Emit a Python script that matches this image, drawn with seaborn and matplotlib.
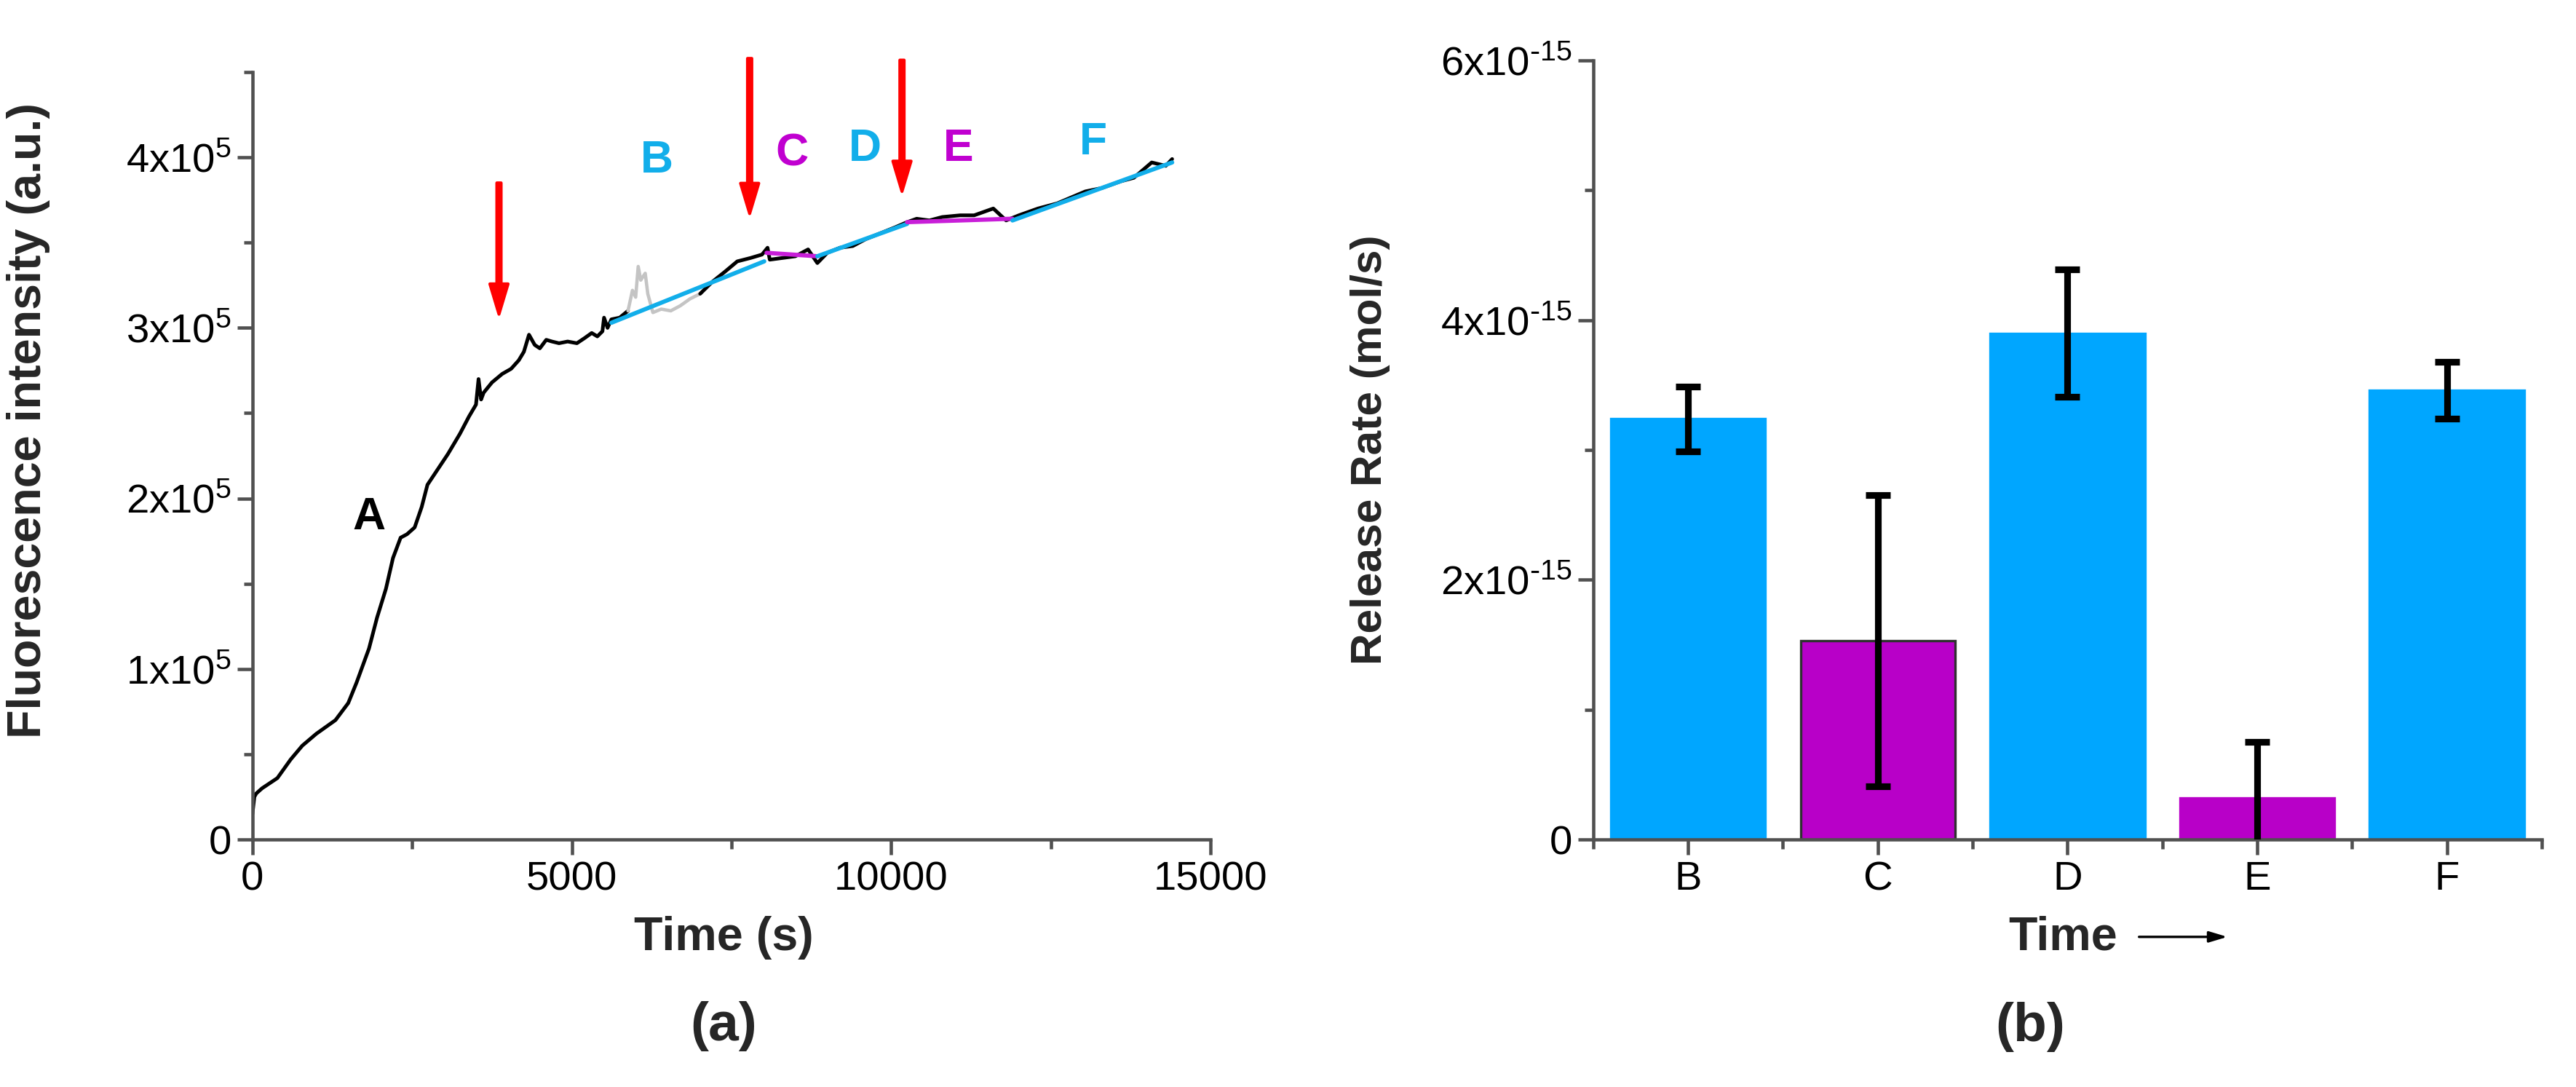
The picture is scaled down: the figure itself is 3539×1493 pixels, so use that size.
import numpy as np
import seaborn as sns
import matplotlib.pyplot as plt

# ---- panel (a): fluorescence trace ----
t_a1 = [0, 30, 60, 150, 390, 600, 780, 1000, 1300, 1500, 1630, 1825, 1950, 2090, 2200,
        2320, 2420, 2540, 2650, 2740, 2900, 3060, 3250, 3390, 3500, 3540, 3580, 3620,
        3750, 3910, 4050, 4170, 4250, 4330, 4420, 4500, 4600, 4690, 4800, 4935, 5080,
        5200, 5312, 5400, 5480, 5505, 5560, 5620, 5750, 5880]
y_a1 = [0.15, 0.25, 0.27, 0.30, 0.36, 0.47, 0.55, 0.62, 0.70, 0.80, 0.92, 1.12, 1.30, 1.47,
        1.65, 1.77, 1.79, 1.83, 1.95, 2.08, 2.17, 2.26, 2.38, 2.48, 2.55, 2.70, 2.58, 2.62,
        2.68, 2.73, 2.76, 2.81, 2.86, 2.96, 2.90, 2.88, 2.93, 2.92, 2.91, 2.92, 2.91, 2.94,
        2.97, 2.95, 2.98, 3.06, 3.00, 3.05, 3.06, 3.10]
t_gray = [5880, 5950, 6000, 6040, 6080, 6150, 6190, 6270, 6400, 6550, 6700, 6850, 7010]
y_gray = [3.10, 3.22, 3.18, 3.36, 3.28, 3.32, 3.20, 3.09, 3.11, 3.10, 3.13, 3.17, 3.20]
t_a2 = [7010, 7200, 7400, 7591, 7800, 7979, 8065, 8100, 8300, 8500, 8700, 8845, 9000,
        9200, 9400, 9600, 9800, 10065, 10250, 10400, 10600, 10800, 11080, 11300, 11600,
        11800, 12000, 12300, 12600, 13040, 13300, 13600, 13800, 14080, 14300, 14400]
y_a2 = [3.20, 3.27, 3.33, 3.39, 3.41, 3.43, 3.47, 3.40, 3.41, 3.42, 3.46, 3.38, 3.44,
        3.47, 3.48, 3.52, 3.55, 3.59, 3.62, 3.64, 3.63, 3.65, 3.66, 3.66, 3.70, 3.63,
        3.66, 3.70, 3.73, 3.80, 3.82, 3.86, 3.88, 3.97, 3.95, 3.99]

# linear fits B..F (start/end)
fit_names = ['B', 'C', 'D', 'E', 'F']
fit_t = [[5620, 8013], [8050, 8845], [8845, 10250], [10250, 11900], [11900, 14400]]
fit_y = [[3.03, 3.39], [3.44, 3.42], [3.42, 3.61], [3.62, 3.64], [3.63, 3.97]]

# red arrows (time, top, tip) and segment letters
arrow_t = [3860, 7785, 10170]
arrow_top = [3.85, 4.58, 4.57]
arrow_tip = [3.08, 3.67, 3.80]
letter_txt = ['A', 'B', 'C', 'D', 'E', 'F']
letter_t = [1830, 6330, 8450, 9590, 11050, 13170]
letter_y = [1.89, 3.98, 4.02, 4.05, 4.05, 4.09]

# ---- panel (b): release rates ----
categories = ['B', 'C', 'D', 'E', 'F']
rate = [3.24, 1.53, 3.90, 0.32, 3.46]   # x1e-15 mol/s
rate_err = [0.25, 1.12, 0.49, 0.43, 0.22]

BLUE = '#00A6FF'
MAG = '#B800C8'
FIT_BLUE = '#12AEEA'
FIT_MAG = '#C81ED8'
colors = {'B': FIT_BLUE, 'C': FIT_MAG, 'D': FIT_BLUE, 'E': FIT_MAG, 'F': FIT_BLUE}
letter_col = {'A': 'black', 'B': '#12AEEA', 'C': '#C000D0', 'D': '#12AEEA',
              'E': '#C000D0', 'F': '#12AEEA'}
bar_col = {'B': BLUE, 'C': MAG, 'D': BLUE, 'E': MAG, 'F': BLUE}

sns.set_style('ticks')
plt.rcParams['font.family'] = ['Liberation Sans', 'DejaVu Sans']
plt.rcParams['mathtext.default'] = 'regular'
plt.rcParams['axes.edgecolor'] = '#505050'
plt.rcParams['axes.linewidth'] = 1.1
for k in ['xtick', 'ytick']:
    plt.rcParams[k + '.color'] = '#505050'
    plt.rcParams[k + '.labelcolor'] = 'black'
    plt.rcParams[k + '.major.width'] = 1.1
    plt.rcParams[k + '.minor.width'] = 1.1
    plt.rcParams[k + '.major.size'] = 5
    plt.rcParams[k + '.minor.size'] = 3
    plt.rcParams[k + '.direction'] = 'out'
    plt.rcParams[k + '.labelsize'] = 13.5

fig = plt.figure(figsize=(3539 / 300, 1493 / 300), dpi=300)
ax1 = fig.add_axes([0.0980, 0.2277, 0.3719, 0.7060])
ax2 = fig.add_axes([0.6185, 0.2277, 0.3682, 0.7167])

### Wykres (a) ---------------------------------------------------------
sc = 1e5
sns.lineplot(x=t_a1, y=np.array(y_a1) * sc, color='black', lw=1.2, ax=ax1, estimator=None)
sns.lineplot(x=t_gray, y=np.array(y_gray) * sc, color='#C4C4C4', lw=1.1, ax=ax1, estimator=None)
sns.lineplot(x=t_a2, y=np.array(y_a2) * sc, color='black', lw=1.2, ax=ax1, estimator=None)
for name, ft, fy in zip(fit_names, fit_t, fit_y):
    sns.lineplot(x=ft, y=np.array(fy) * sc, color=colors[name], lw=1.4, ax=ax1, estimator=None)

for t, top, tip in zip(arrow_t, arrow_top, arrow_tip):
    ax1.annotate('', xy=(t, tip * sc), xytext=(t, top * sc), annotation_clip=False,
                 arrowprops=dict(facecolor='red', edgecolor='red', width=1.4,
                                 headwidth=6, headlength=10, shrink=0))

for s, t, y in zip(letter_txt, letter_t, letter_y):
    ax1.text(t, y * sc, s, color=letter_col[s], fontsize=15, fontweight='bold',
             ha='center', va='center')

ax1.set_xlim(0, 15000)
ax1.set_ylim(0, 4.5e5)
ax1.set_xticks([0, 5000, 10000, 15000])
ax1.set_xticks(np.arange(0, 15001, 2500), minor=True)
ax1.set_yticks([0, 1e5, 2e5, 3e5, 4e5])
ax1.set_yticklabels(['0', '1x10$^5$', '2x10$^5$', '3x10$^5$', '4x10$^5$'])
ax1.set_yticks(np.arange(0, 4.51e5, 0.5e5), minor=True)
ax1.tick_params(pad=2)
ax1.set_xlabel('Time (s)', fontsize=15.5, fontweight='bold')
ax1.set_ylabel('Fluorescence intensity (a.u.)', fontsize=15.5, fontweight='bold')
ax1.xaxis.set_label_coords(0.492, -0.10)
ax1.yaxis.set_label_coords(-0.211, 0.546)
sns.despine(ax=ax1)

### Wykres (b) ---------------------------------------------------------
vals = np.array(rate) * 1e-15
errs = np.array(rate_err) * 1e-15
sns.barplot(x=categories, y=vals, hue=categories, palette=bar_col, width=0.815,
            legend=False, ax=ax2, saturation=1)
for p, c in zip(ax2.patches, categories):
    p.set_edgecolor('#303030' if c == 'C' else bar_col[c])
    p.set_linewidth(0.8)
ax2.errorbar(np.arange(len(categories)), vals, yerr=errs, fmt='none', ecolor='black',
             elinewidth=2.2, capsize=4, capthick=2.2, zorder=5)

ax2.set_xlim(-0.5, 4.5)
ax2.set_ylim(0, 6e-15)
ax2.set_yticks([0, 2e-15, 4e-15, 6e-15])
ax2.set_yticklabels(['0', '2x10$^{\\text{-}15}$', '4x10$^{\\text{-}15}$', '6x10$^{\\text{-}15}$'])
ax2.set_yticks(np.arange(0, 6.01e-15, 1e-15), minor=True)
ax2.set_xticks(np.arange(-0.5, 4.51, 1.0), minor=True)
ax2.tick_params(pad=2)
ax2.set_xlabel('Time', fontsize=15.5, fontweight='bold')
ax2.set_ylabel('Release Rate (mol/s)', fontsize=14.5, fontweight='bold')
ax2.xaxis.set_label_coords(0.495, -0.098)
ax2.yaxis.set_label_coords(-0.214, 0.5)
ax2.annotate('', xy=(0.675, -0.125), xytext=(0.569, -0.125), xycoords='axes fraction',
             annotation_clip=False,
             arrowprops=dict(arrowstyle='-|>,head_length=0.5,head_width=0.15',
                             color='black', lw=0.8))
sns.despine(ax=ax2)

fig.text(0.281, 0.056, '(a)', fontsize=18, fontweight='bold', ha='center', va='center')
fig.text(0.788, 0.055, '(b)', fontsize=18, fontweight='bold', ha='center', va='center')

fig.savefig('out.png', dpi=300)
